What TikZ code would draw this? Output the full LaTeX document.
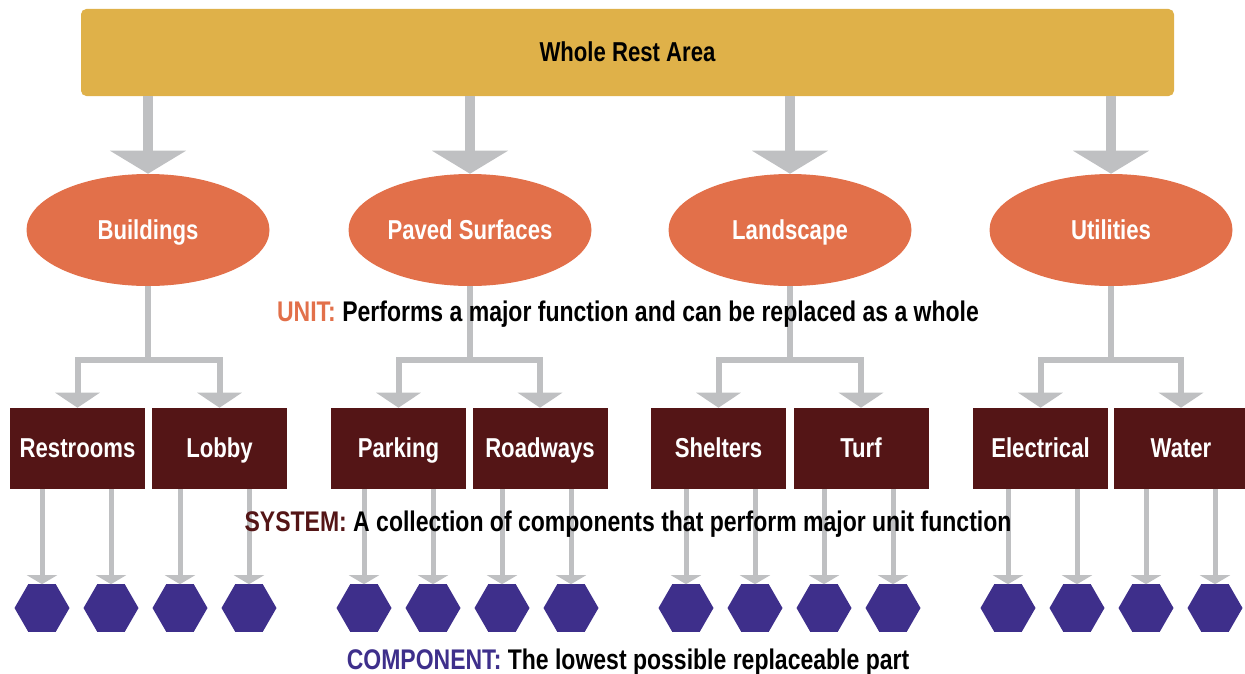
\documentclass[tikz,border=0pt]{standalone}
\usepackage{fontspec}
\newfontfamily\condfont[FakeStretch=0.81]{Liberation Sans}
\usetikzlibrary{shapes.geometric,arrows.meta}

\definecolor{restgold}{HTML}{DFB149}
\definecolor{unitorange}{HTML}{E2704A}
\definecolor{sysmaroon}{HTML}{541516}
\definecolor{comppurple}{HTML}{3E2F8B}
\definecolor{linkgray}{HTML}{BFC0C2}

\tikzset{
  lbl/.style={font=\condfont\bfseries\fontsize{20.5}{23}\selectfont, text height=14.1pt, text depth=0pt},
  wholebox/.style={lbl, fill=restgold, rounded corners=4pt, minimum width=819.75pt, minimum height=65.25pt, inner sep=0pt},
  unit/.style={lbl, ellipse, fill=unitorange, text=white, minimum width=182.25pt, minimum height=84pt, inner sep=0pt},
  system/.style={lbl, fill=sysmaroon, text=white, minimum width=101.25pt, minimum height=60.75pt, inner sep=0pt},
  comp/.style={regular polygon, regular polygon sides=6, fill=comppurple, minimum size=41.25pt, inner sep=0pt, outer sep=0pt},
  bigarrow/.style={draw=linkgray, line width=7.5pt, -{Triangle[width=56.25pt,length=17.25pt]}},
  midarrow/.style={draw=linkgray, line width=4.5pt, miter limit=4, -{Triangle[width=33pt,length=11.25pt]}},
  lowarrow/.style={draw=linkgray, line width=3.75pt, -{Triangle[width=22.5pt,length=6.75pt]}},
  caption/.style={font=\condfont\bfseries\fontsize{21.3}{24}\selectfont, text height=14.6pt, text depth=0pt, inner sep=0pt}
}

\begin{document}
\begin{tikzpicture}[x=0.75pt, y=-0.75pt]
  \useasboundingbox (0,0) rectangle (1245,674);

  % whole
  \node[wholebox] (whole) at (627.5,52.5) {Whole Rest Area};

  % units
  \node[unit] (bld) at (148,230) {Buildings};
  \node[unit] (pav) at (470,230) {Paved Surfaces};
  \node[unit] (lsc) at (790,230) {Landscape};
  \node[unit] (utl) at (1111,230) {Utilities};

  \draw[bigarrow] (whole.south -| bld.north) -- (bld.north);
  \draw[bigarrow] (whole.south -| pav.north) -- (pav.north);
  \draw[bigarrow] (whole.south -| lsc.north) -- (lsc.north);
  \draw[bigarrow] (whole.south -| utl.north) -- (utl.north);

  % systems
  \node[system] (rest) at (77.5,448.5) {Restrooms};
  \node[system] (lobby) at (219.5,448.5) {Lobby};
  \node[system] (park) at (398.5,448.5) {Parking};
  \node[system] (road) at (540,448.5) {Roadways};
  \node[system] (shel) at (718.5,448.5) {Shelters};
  \node[system] (turf) at (861,448.5) {Turf};
  \node[system] (elec) at (1040.5,448.5) {Electrical};
  \node[system] (water) at (1181,448.5) {Water};

  \draw[midarrow] (bld.south) -- ++(0,74) -| (rest.north);
  \draw[midarrow] (bld.south) -- ++(0,74) -| (lobby.north);
  \draw[midarrow] (pav.south) -- ++(0,74) -| (park.north);
  \draw[midarrow] (pav.south) -- ++(0,74) -| (road.north);
  \draw[midarrow] (lsc.south) -- ++(0,74) -| (shel.north);
  \draw[midarrow] (lsc.south) -- ++(0,74) -| (turf.north);
  \draw[midarrow] (utl.south) -- ++(0,74) -| (elec.north);
  \draw[midarrow] (utl.south) -- ++(0,74) -| (water.north);

  % components
  \foreach \x/\p [count=\i] in {42/rest,111/rest,180/lobby,249/lobby,
      364/park,433/park,502/road,571/road,686/shel,755/shel,824/turf,893/turf,
      1008/elec,1077/elec,1146/water,1215/water} {
    \node[comp] (c\i) at (\x,608) {};
    \draw[lowarrow] (c\i |- \p.south) -- (c\i.north);
  }

  % captions
  \node[caption] (unitcap) at (628,312) {\textcolor{unitorange}{UNIT:} Performs a major function and can be replaced as a whole};
  \node[caption] (syscap) at (628,522) {\textcolor{sysmaroon}{SYSTEM:} A collection of components that perform major unit function};
  \node[caption] (compcap) at (628,660) {\textcolor{comppurple}{COMPONENT:} The lowest possible replaceable part};
\end{tikzpicture}
\end{document}
